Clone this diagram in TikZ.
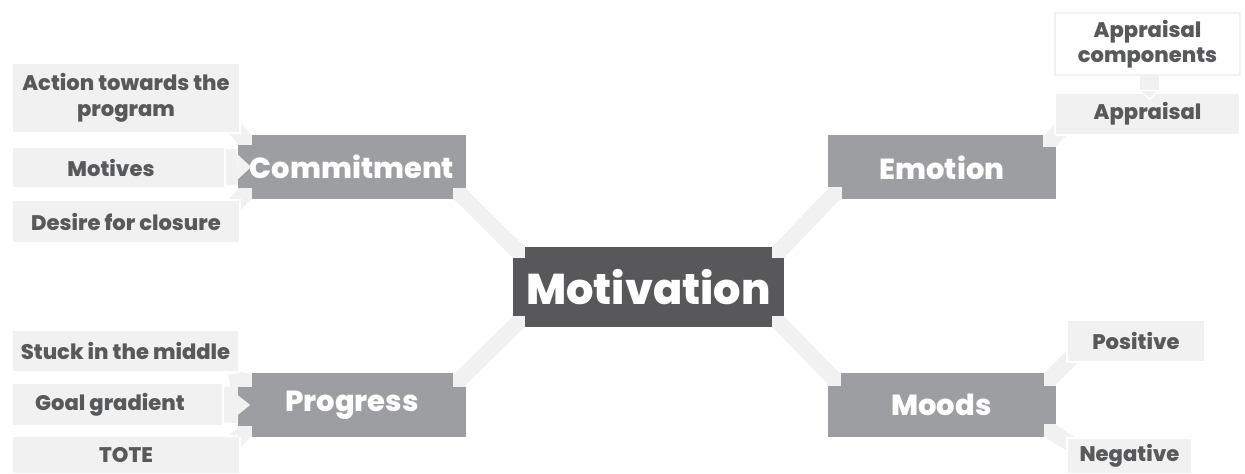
\documentclass[tikz,border=0pt]{standalone}
\usepackage{fontspec}
\setmainfont{Poppins}[BoldFont={Poppins ExtraBold}]
\usetikzlibrary{backgrounds}

\definecolor{hubgray}{HTML}{58585A}
\definecolor{topicgray}{HTML}{9D9EA1}
\definecolor{leafgray}{HTML}{F1F1F1}
\definecolor{leaftext}{HTML}{58595B}

\begin{document}
\begin{tikzpicture}

  % Define styles
  \tikzstyle{hub} = [rectangle, fill=hubgray, text=white, inner sep=0pt, minimum width=5.42cm, minimum height=1.6cm, font=\bfseries\fontsize{24.5}{24.5}\selectfont]
  \tikzstyle{topic} = [rectangle, fill=topicgray, text=white, inner sep=0pt, minimum width=4.56cm, minimum height=1.28cm, font=\bfseries\fontsize{16.5}{16.5}\selectfont]
  \tikzstyle{leaf} = [rectangle, fill=leafgray, draw=white, line width=0.8pt, text=leaftext, inner sep=0pt, align=center, font=\bfseries\fontsize{12}{14.5}\selectfont]
  \tikzstyle{band} = [draw=leafgray, line width=0.32cm]
  \tikzstyle{notch} = [fill=leafgray]

  \useasboundingbox (0,0) rectangle (24.9,9.48);

  % Centre and the four topics
  \node[hub] (mot) at (12.97, 3.74) {Motivation};
  \node[topic] (com) at (7.04, 6.14) {Commitment};
  \node[topic] (emo) at (18.84, 6.13) {Emotion};
  \node[topic] (pro) at (7.04, 1.38) {Progress};
  \node[topic] (moo) at (18.83, 1.38) {Moods};

  % Commitment leaves
  \node[leaf, minimum width=4.56cm, minimum height=1.4cm] (act) at (2.52, 7.52) {Action towards the\\program};
  \node[leaf, minimum width=4.26cm, minimum height=0.82cm] (mtv) at (2.37, 6.13) {Motives\hspace*{0.3cm}};
  \node[leaf, minimum width=4.56cm, minimum height=0.86cm] (des) at (2.52, 5.05) {Desire for closure};

  % Progress leaves
  \node[leaf, minimum width=4.54cm, minimum height=0.84cm] (stk) at (2.51, 2.46) {Stuck in the middle};
  \node[leaf, minimum width=4.22cm, minimum height=0.86cm] (gol) at (2.35, 1.39) {Goal gradient\hspace*{0.3cm}};
  \node[leaf, minimum width=4.56cm, minimum height=0.76cm] (tot) at (2.52, 0.38) {TOTE};

  % Emotion leaves
  \node[leaf, fill=white, draw=leafgray, line width=1pt, minimum width=3.7cm, minimum height=1.24cm] (apc) at (22.95, 8.6) {Appraisal\\components};
  \node[leaf, minimum width=3.7cm, minimum height=0.84cm] (apr) at (22.95, 7.2) {Appraisal};

  % Moods leaves
  \node[leaf, minimum width=2.76cm, minimum height=0.84cm] (pos) at (22.72, 2.66) {Positive};
  \node[leaf, minimum width=2.5cm, minimum height=0.72cm] (neg) at (22.59, 0.36) {Negative};

  % Connector bands behind the boxes
  \begin{pgfonlayer}{background}
    \draw[band] ([shift={(-0.13,0.11)}]com.south east) -- ([shift={(0.12,-0.11)}]mot.north west);
    \draw[band] ([shift={(0.14,0.13)}]emo.south west) -- ([shift={(-0.12,-0.11)}]mot.north east);
    \draw[band] ([shift={(-0.13,-0.14)}]pro.north east) -- ([shift={(0.12,0.11)}]mot.south west);
    \draw[band] ([shift={(0.14,-0.13)}]moo.north west) -- ([shift={(-0.12,0.11)}]mot.south east);

    \draw[band] ([shift={(-0.2,0.2)}]act.south east) -- ([shift={(0.14,-0.1)}]com.north west);
    \draw[band, line width=0.72cm] (mtv.east) -- (com.west);
    \draw[band] ([shift={(-0.2,-0.2)}]des.north east) -- ([shift={(0.14,0.11)}]com.south west);

    \draw[band] ([shift={(-0.2,-0.2)}]stk.south east) -- ([shift={(0.14,-0.14)}]pro.north west);
    \draw[band, line width=0.72cm] (gol.east) -- (pro.west);
    \draw[band] ([shift={(-0.2,-0.2)}]tot.north east) -- ([shift={(0.14,0.11)}]pro.south west);

    \draw[band] ([shift={(-0.13,-0.12)}]emo.north east) -- ([shift={(0.2,0.2)}]apr.south west);
    \draw[band, line width=0.38cm] ([xshift=0.04cm]apc.south) -- ([xshift=0.04cm]apr.north);

    \draw[band] ([shift={(-0.12,-0.13)}]moo.north east) -- ([shift={(0.2,0.2)}]pos.south west);
    \draw[band] ([shift={(-0.12,0.13)}]moo.south east) -- ([shift={(0.2,-0.2)}]neg.north west);
  \end{pgfonlayer}

  % Notches where the bands meet the boxes
  \fill[notch] (mot.north west) rectangle ++(0.24,-0.22);
  \fill[notch] (mot.north east) rectangle ++(-0.24,-0.22);
  \fill[notch] (mot.south west) rectangle ++(0.24,0.22);
  \fill[notch] (mot.south east) rectangle ++(-0.24,0.22);

  \fill[notch] (com.north west) rectangle ++(0.28,-0.2);
  \fill[notch] (com.south west) rectangle ++(0.28,0.22);
  \fill[notch] (com.south east) rectangle ++(-0.26,0.22);
  \fill[notch] ([yshift=0.25cm]com.west) -- ([xshift=0.27cm]com.west) -- ([yshift=-0.25cm]com.west) -- cycle;

  \fill[notch] (emo.south west) rectangle ++(0.28,0.26);
  \fill[notch] (emo.north east) rectangle ++(-0.26,-0.24);

  \fill[notch] (pro.north west) rectangle ++(0.28,-0.28);
  \fill[notch] (pro.south west) rectangle ++(0.28,0.22);
  \fill[notch] (pro.north east) rectangle ++(-0.26,-0.28);
  \fill[notch] ([yshift=0.2cm]pro.west) -- ([xshift=0.25cm]pro.west) -- ([yshift=-0.2cm]pro.west) -- cycle;

  \fill[notch] (moo.north west) rectangle ++(0.28,-0.26);
  \fill[notch] (moo.north east) rectangle ++(-0.24,-0.26);
  \fill[notch] (moo.south east) rectangle ++(-0.24,0.26);

  % Pointer from Appraisal components into Appraisal
  \filldraw[fill=leafgray, draw=white, line width=0.6pt] ([shift={(-0.15,0.04)}]apr.north) -- ([shift={(0.23,0.04)}]apr.north) -- ([shift={(0.04,-0.14)}]apr.north) -- cycle;

\end{tikzpicture}
\end{document}
